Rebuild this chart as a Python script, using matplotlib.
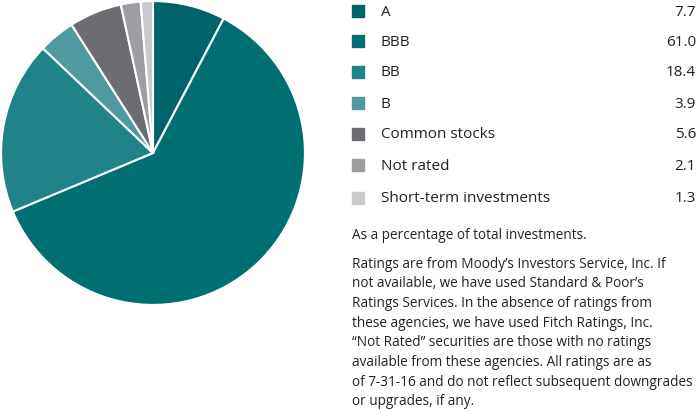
import matplotlib.pyplot as plt

plt.rcParams['font.family'] = ['Open Sans', 'DejaVu Sans']

labels = ["A", "BBB", "BB", "B", "Common stocks", "Not rated", "Short-term investments"]
values = [7.7, 61.0, 18.4, 3.9, 5.6, 2.1, 1.3]
colors = ["#01636a", "#006f74", "#1f8388", "#4f9a9e", "#6b6d72", "#9c9ea1", "#c9cacc"]

note1 = "As a percentage of total investments."
note_lines = ["Ratings are from Moody\u2019s Investors Service, Inc. If",
              "not available, we have used Standard & Poor\u2019s",
              "Ratings Services. In the absence of ratings from",
              "these agencies, we have used Fitch Ratings, Inc.",
              "\u201cNot Rated\u201d securities are those with no ratings",
              "available from these agencies. All ratings are as",
              "of 7-31-16 and do not reflect subsequent downgrades",
              "or upgrades, if any."]

W, H = 700, 410
fig = plt.figure(figsize=(7, 4.1), dpi=100)

# pie: centre (153,154) px, radius 152 px
ax = fig.add_axes([0, (H - 154 - 153) / H, 306 / W, 306 / H])
ax.pie(values, colors=colors, startangle=90, counterclock=False,
       wedgeprops=dict(edgecolor="white", linewidth=1.5))
ax.set_xlim(-1.007, 1.007)
ax.set_ylim(-1.007, 1.007)
ax.set_aspect("equal")

# legend rows
row_y = [12, 42, 73, 104, 135, 166, 199]
for lab, val, col, y in zip(labels, values, colors, row_y):
    fig.patches.append(plt.Rectangle((352 / W, 1 - (y + 6) / H), 12 / W, 12 / H,
                                     transform=fig.transFigure, color=col))
    fig.text(381 / W, 1 - y / H, lab, fontsize=11, color="#222222", va="center")
    fig.text(696 / W, 1 - y / H, f"{val:.1f}", fontsize=11, color="#222222",
             va="center", ha="right")

fig.text(352 / W, 1 - 236 / H, note1, fontsize=9.8, color="#222222", va="center")
for i, line in enumerate(note_lines):
    fig.text(352 / W, 1 - (264 + 19.7 * i) / H, line, fontsize=9.8,
             color="#222222", va="center")

fig.savefig("out.png", dpi=100)
